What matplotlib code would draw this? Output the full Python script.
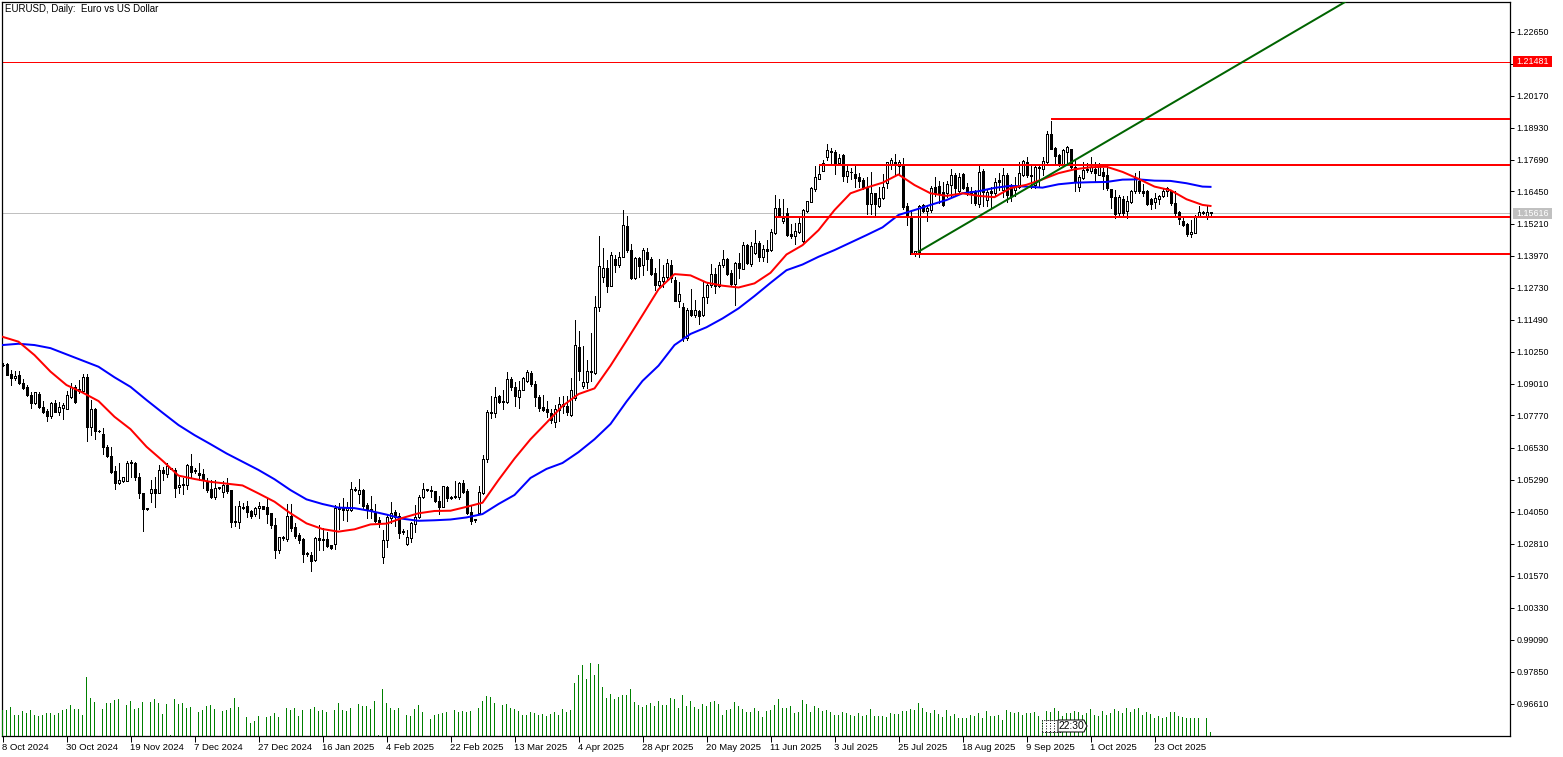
import matplotlib
matplotlib.use('Agg')
import matplotlib.pyplot as plt
from matplotlib.patches import Polygon, Rectangle
from matplotlib.transforms import IdentityTransform

plt.rcParams['font.family'] = ['Liberation Sans', 'DejaVu Sans']

# daily candles, one value per bar
opens = [
    1.0974,1.0975,1.0938,1.0922,1.0935,1.0903,1.0886,1.0856,1.0825,1.0860,
    1.0808,1.0794,1.0775,1.0825,1.0790,1.0807,1.0803,1.0850,1.0886,1.0873,
    1.0872,1.0925,1.0731,1.0802,1.0718,1.0704,1.0655,1.0620,1.0562,1.0517,
    1.0525,1.0525,1.0595,1.0593,1.0538,1.0477,1.0417,1.0475,1.0491,1.0478,
    1.0566,1.0550,1.0574,1.0566,1.0499,1.0506,1.0509,1.0582,1.0565,1.0553,
    1.0551,1.0521,1.0493,1.0463,1.0499,1.0482,1.0509,1.0487,1.0369,1.0366,
    1.0424,1.0427,1.0408,1.0396,1.0417,1.0426,1.0423,1.0398,1.0353,1.0256,
    1.0305,1.0299,1.0389,1.0344,1.0315,1.0299,1.0245,1.0237,1.0216,1.0303,
    1.0300,1.0299,1.0274,1.0278,1.0414,1.0418,1.0410,1.0410,1.0494,1.0474,
    1.0489,1.0431,1.0414,1.0401,1.0373,1.0227,1.0293,1.0379,1.0403,1.0388,
    1.0329,1.0280,1.0304,1.0357,1.0385,1.0460,1.0492,1.0487,1.0485,1.0446,
    1.0424,1.0500,1.0461,1.0465,1.0462,1.0514,1.0485,1.0402,1.0375,1.0401,
    1.0477,1.0607,1.0792,1.0786,1.0851,1.0834,1.0830,1.0918,1.0887,1.0850,
    1.0877,1.0909,1.0942,1.0900,1.0850,1.0810,1.0802,1.0786,1.0750,1.0799,
    1.0823,1.0814,1.0780,1.0844,1.1043,1.0890,1.0908,1.0951,1.0943,1.1197,
    1.1313,1.1348,1.1279,1.1384,1.1362,1.1393,1.1511,1.1417,1.1311,1.1386,
    1.1359,1.1411,1.1382,1.1328,1.1284,1.1299,1.1313,1.1360,1.1302,1.1219,
    1.1197,1.1077,1.1184,1.1168,1.1181,1.1167,1.1235,1.1283,1.1324,1.1277,
    1.1361,1.1384,1.1328,1.1288,1.1367,1.1346,1.1437,1.1364,1.1406,1.1444,
    1.1393,1.1421,1.1420,1.1483,1.1580,1.1532,1.1561,1.1481,1.1474,1.1490,
    1.1455,1.1571,1.1606,1.1653,1.1695,1.1726,1.1780,1.1802,1.1797,1.1754,
    1.1785,1.1706,1.1722,1.1713,1.1700,1.1689,1.1661,1.1597,1.1638,1.1589,
    1.1619,1.1677,1.1750,1.1760,1.1744,1.1750,1.1587,1.1551,1.1404,1.1409,
    1.1591,1.1568,1.1574,1.1662,1.1667,1.1644,1.1639,1.1671,1.1709,1.1645,
    1.1713,1.1662,1.1645,1.1645,1.1597,1.1725,1.1613,1.1645,1.1641,1.1688,
    1.1651,1.1709,1.1671,1.1651,1.1662,1.1709,1.1761,1.1709,1.1671,1.1738,
    1.1731,1.1760,1.1868,1.1813,1.1787,1.1748,1.1800,1.1809,1.1739,1.1664,
    1.1697,1.1731,1.1726,1.1731,1.1709,1.1721,1.1708,1.1654,1.1622,1.1561,
    1.1615,1.1568,1.1606,1.1645,1.1684,1.1645,1.1645,1.1617,1.1605,1.1615,
    1.1628,1.1645,1.1645,1.1600,1.1564,1.1531,1.1519,1.1479,1.1486,1.1551,1.1565,1.1551,1.1564,
]
highs = [
    1.0979,1.0979,1.0953,1.0950,1.0950,1.0917,1.0895,1.0870,1.0869,1.0870,
    1.0834,1.0801,1.0829,1.0836,1.0829,1.0824,1.0872,1.0902,1.0895,1.0914,
    1.0939,1.0939,1.0837,1.0805,1.0721,1.0727,1.0663,1.0654,1.0582,1.0592,
    1.0540,1.0602,1.0605,1.0598,1.0553,1.0477,1.0417,1.0528,1.0540,1.0586,
    1.0579,1.0592,1.0575,1.0573,1.0540,1.0534,1.0588,1.0627,1.0573,1.0592,
    1.0569,1.0534,1.0528,1.0528,1.0500,1.0525,1.0534,1.0489,1.0427,1.0446,
    1.0437,1.0444,1.0411,1.0424,1.0441,1.0426,1.0457,1.0401,1.0379,1.0308,
    1.0311,1.0433,1.0433,1.0359,1.0321,1.0301,1.0250,1.0250,1.0305,1.0353,
    1.0340,1.0327,1.0274,1.0431,1.0437,1.0456,1.0440,1.0518,1.0499,1.0531,
    1.0491,1.0437,1.0465,1.0434,1.0385,1.0334,1.0396,1.0442,1.0411,1.0398,
    1.0336,1.0334,1.0366,1.0431,1.0468,1.0514,1.0492,1.0505,1.0486,1.0465,
    1.0504,1.0504,1.0464,1.0525,1.0520,1.0527,1.0491,1.0431,1.0375,1.0504,
    1.0624,1.0798,1.0853,1.0887,1.0857,1.0874,1.0945,1.0928,1.0905,1.0912,
    1.0928,1.0954,1.0948,1.0909,1.0857,1.0857,1.0832,1.0802,1.0819,1.0848,
    1.0851,1.0851,1.0922,1.1148,1.1106,1.1048,1.0993,1.1096,1.1240,1.1473,
    1.1425,1.1380,1.1412,1.1399,1.1412,1.1573,1.1550,1.1442,1.1390,1.1390,
    1.1425,1.1425,1.1390,1.1348,1.1382,1.1360,1.1384,1.1380,1.1315,1.1296,
    1.1212,1.1193,1.1266,1.1225,1.1186,1.1296,1.1296,1.1363,1.1347,1.1373,
    1.1419,1.1386,1.1341,1.1373,1.1406,1.1451,1.1441,1.1451,1.1496,1.1455,
    1.1438,1.1457,1.1499,1.1630,1.1617,1.1615,1.1580,1.1519,1.1522,1.1545,
    1.1576,1.1610,1.1664,1.1744,1.1750,1.1767,1.1831,1.1812,1.1806,1.1790,
    1.1790,1.1744,1.1735,1.1748,1.1715,1.1696,1.1702,1.1722,1.1640,1.1664,
    1.1713,1.1760,1.1773,1.1790,1.1769,1.1773,1.1600,1.1568,1.1413,1.1593,
    1.1596,1.1593,1.1667,1.1703,1.1684,1.1680,1.1684,1.1731,1.1716,1.1716,
    1.1718,1.1677,1.1664,1.1651,1.1744,1.1731,1.1651,1.1664,1.1697,1.1718,
    1.1735,1.1716,1.1675,1.1703,1.1761,1.1767,1.1780,1.1748,1.1744,1.1748,
    1.1778,1.1881,1.1918,1.1817,1.1791,1.1809,1.1822,1.1811,1.1767,1.1709,
    1.1761,1.1757,1.1778,1.1761,1.1757,1.1735,1.1742,1.1654,1.1651,1.1632,
    1.1628,1.1626,1.1651,1.1716,1.1726,1.1675,1.1651,1.1619,1.1638,1.1632,
    1.1658,1.1664,1.1648,1.1645,1.1568,1.1542,1.1522,1.1535,1.1555,1.1589,1.1570,1.1589,1.1564,
]
lows = [
    1.0969,1.0935,1.0896,1.0914,1.0901,1.0878,1.0852,1.0806,1.0821,1.0806,
    1.0785,1.0757,1.0767,1.0790,1.0779,1.0765,1.0803,1.0845,1.0824,1.0863,
    1.0863,1.0680,1.0702,1.0685,1.0715,1.0628,1.0615,1.0553,1.0494,1.0512,
    1.0520,1.0525,1.0538,1.0528,1.0459,1.0331,1.0409,1.0442,1.0422,1.0476,
    1.0528,1.0540,1.0570,1.0460,1.0476,1.0471,1.0491,1.0540,1.0553,1.0528,
    1.0495,1.0482,1.0456,1.0452,1.0494,1.0463,1.0476,1.0344,1.0347,1.0340,
    1.0414,1.0383,1.0379,1.0386,1.0379,1.0415,1.0359,1.0343,1.0223,1.0246,
    1.0295,1.0292,1.0331,1.0301,1.0282,1.0211,1.0231,1.0176,1.0215,1.0254,
    1.0257,1.0269,1.0260,1.0260,1.0339,1.0373,1.0370,1.0407,1.0486,1.0437,
    1.0418,1.0379,1.0379,1.0365,1.0344,1.0207,1.0269,1.0360,1.0347,1.0304,
    1.0318,1.0274,1.0287,1.0324,1.0379,1.0456,1.0486,1.0463,1.0440,1.0396,
    1.0421,1.0447,1.0455,1.0456,1.0455,1.0476,1.0396,1.0357,1.0365,1.0398,
    1.0473,1.0598,1.0766,1.0773,1.0825,1.0804,1.0825,1.0874,1.0812,1.0806,
    1.0874,1.0905,1.0890,1.0812,1.0793,1.0793,1.0773,1.0748,1.0731,1.0754,
    1.0786,1.0780,1.0776,1.0838,1.0915,1.0883,1.0883,1.0909,1.0939,1.1180,
    1.1296,1.1257,1.1277,1.1335,1.1354,1.1390,1.1412,1.1305,1.1306,1.1315,
    1.1320,1.1341,1.1323,1.1264,1.1270,1.1274,1.1302,1.1296,1.1219,1.1199,
    1.1064,1.1070,1.1161,1.1158,1.1132,1.1161,1.1212,1.1274,1.1253,1.1274,
    1.1354,1.1321,1.1277,1.1207,1.1309,1.1344,1.1364,1.1357,1.1402,1.1377,
    1.1377,1.1373,1.1416,1.1481,1.1545,1.1522,1.1473,1.1464,1.1442,1.1486,
    1.1451,1.1567,1.1604,1.1648,1.1692,1.1723,1.1767,1.1749,1.1713,1.1748,
    1.1687,1.1683,1.1692,1.1661,1.1664,1.1653,1.1558,1.1558,1.1554,1.1584,
    1.1616,1.1657,1.1731,1.1709,1.1709,1.1577,1.1516,1.1404,1.1397,1.1393,
    1.1566,1.1529,1.1564,1.1626,1.1600,1.1587,1.1623,1.1628,1.1632,1.1641,
    1.1654,1.1632,1.1600,1.1593,1.1583,1.1589,1.1587,1.1578,1.1626,1.1651,
    1.1623,1.1606,1.1610,1.1626,1.1658,1.1706,1.1703,1.1658,1.1658,1.1667,
    1.1709,1.1757,1.1809,1.1748,1.1744,1.1742,1.1748,1.1735,1.1645,1.1648,
    1.1693,1.1722,1.1716,1.1684,1.1707,1.1654,1.1651,1.1580,1.1542,1.1551,
    1.1555,1.1542,1.1602,1.1641,1.1641,1.1626,1.1593,1.1577,1.1580,1.1597,
    1.1623,1.1628,1.1593,1.1552,1.1520,1.1510,1.1473,1.1467,1.1484,1.1546,1.1559,1.1540,1.1551,
]
closes = [
    1.0972,1.0935,1.0922,1.0932,1.0904,1.0883,1.0856,1.0825,1.0867,1.0810,
    1.0790,1.0775,1.0825,1.0790,1.0808,1.0816,1.0856,1.0886,1.0829,1.0878,
    1.0925,1.0731,1.0801,1.0716,1.0716,1.0654,1.0619,1.0558,1.0517,1.0526,
    1.0537,1.0592,1.0592,1.0537,1.0475,1.0413,1.0414,1.0491,1.0478,1.0565,
    1.0553,1.0580,1.0571,1.0498,1.0508,1.0513,1.0585,1.0558,1.0561,1.0546,
    1.0531,1.0488,1.0462,1.0497,1.0495,1.0509,1.0486,1.0364,1.0364,1.0425,
    1.0420,1.0405,1.0386,1.0419,1.0427,1.0415,1.0397,1.0354,1.0256,1.0305,
    1.0303,1.0388,1.0343,1.0312,1.0295,1.0242,1.0240,1.0215,1.0303,1.0293,
    1.0294,1.0273,1.0264,1.0418,1.0420,1.0411,1.0418,1.0491,1.0487,1.0487,
    1.0428,1.0414,1.0410,1.0369,1.0360,1.0294,1.0383,1.0401,1.0385,1.0323,
    1.0325,1.0305,1.0361,1.0385,1.0461,1.0491,1.0490,1.0485,1.0445,1.0423,
    1.0503,1.0458,1.0456,1.0460,1.0516,1.0482,1.0401,1.0370,1.0373,1.0480,
    1.0607,1.0789,1.0785,1.0848,1.0831,1.0830,1.0918,1.0886,1.0851,1.0875,
    1.0922,1.0946,1.0901,1.0848,1.0807,1.0799,1.0789,1.0761,1.0802,1.0821,
    1.0812,1.0789,1.0874,1.1050,1.0951,1.0906,1.0951,1.0944,1.1198,1.1355,
    1.1348,1.1280,1.1398,1.1362,1.1391,1.1514,1.1418,1.1311,1.1386,1.1357,
    1.1418,1.1382,1.1327,1.1284,1.1297,1.1313,1.1367,1.1309,1.1222,1.1247,
    1.1077,1.1185,1.1167,1.1185,1.1164,1.1235,1.1283,1.1324,1.1279,1.1361,
    1.1384,1.1324,1.1287,1.1367,1.1348,1.1437,1.1367,1.1432,1.1444,1.1393,
    1.1421,1.1416,1.1487,1.1580,1.1545,1.1544,1.1477,1.1473,1.1490,1.1522,
    1.1573,1.1607,1.1659,1.1700,1.1711,1.1754,1.1806,1.1797,1.1754,1.1773,
    1.1706,1.1723,1.1719,1.1697,1.1687,1.1661,1.1597,1.1638,1.1597,1.1619,
    1.1661,1.1758,1.1767,1.1751,1.1758,1.1584,1.1551,1.1404,1.1413,1.1587,
    1.1570,1.1581,1.1657,1.1641,1.1639,1.1593,1.1675,1.1707,1.1660,1.1700,
    1.1659,1.1639,1.1639,1.1600,1.1720,1.1642,1.1642,1.1639,1.1682,1.1680,
    1.1709,1.1632,1.1628,1.1664,1.1716,1.1764,1.1708,1.1706,1.1738,1.1735,
    1.1762,1.1868,1.1811,1.1784,1.1748,1.1804,1.1817,1.1739,1.1681,1.1703,
    1.1729,1.1729,1.1739,1.1718,1.1752,1.1706,1.1657,1.1622,1.1559,1.1622,
    1.1561,1.1610,1.1648,1.1697,1.1645,1.1639,1.1597,1.1597,1.1619,1.1628,
    1.1648,1.1658,1.1600,1.1561,1.1538,1.1516,1.1480,1.1488,1.1552,1.1564,1.1561,1.1565,1.1562,
]

# relative tick volume
volumes = [
    78,78,87,63,63,75,69,78,63,60,63,69,69,63,69,78,81,93,81,81,
    63,177,114,102,0,81,99,99,108,111,0,93,105,81,84,102,0,102,111,99,
    66,96,3,111,96,99,84,87,0,72,78,90,93,81,0,75,78,84,114,87,
    0,57,39,45,60,0,57,60,69,57,0,84,78,84,60,78,0,81,87,75,
    78,72,0,78,99,78,75,84,0,96,90,90,81,105,3,141,99,84,78,84,
    0,63,60,81,93,72,0,51,63,66,69,72,0,78,72,75,72,75,0,84,
    105,120,117,99,0,93,96,84,81,75,63,63,72,69,63,66,60,66,72,63,
    81,72,78,159,183,213,171,219,183,216,147,114,126,111,117,123,123,141,102,93,
    87,93,99,90,105,93,93,114,111,84,123,90,105,87,81,96,90,102,105,96,
    63,78,81,102,90,81,72,72,84,75,57,75,78,93,111,84,84,90,69,72,
    108,96,72,90,84,75,78,72,63,63,72,69,63,60,69,60,63,81,60,60,
    60,57,69,66,66,75,75,81,78,99,84,72,69,78,66,57,78,60,66,54,
    54,54,63,60,69,54,75,60,60,63,48,78,72,69,72,63,69,69,72,60,
    48,75,72,84,75,60,69,69,75,72,63,69,81,63,60,75,63,69,81,75,
    69,84,72,81,84,63,72,66,54,60,54,57,72,72,60,57,54,54,54,54,
    0,54,12,
]

# moving averages sampled every fourth bar, plus the last one
ma_bars = list(range(0, 301, 4)) + [302]
ma_fast = [
    1.1082,1.1063,1.1011,1.0947,1.0895,1.0866,1.0833,1.0772,1.0724,1.0656,
    1.0602,1.0544,1.0531,1.0520,1.0513,1.0506,1.0475,1.0443,1.0398,1.0359,
    1.0337,1.0327,1.0336,1.0355,1.0358,1.0380,1.0398,1.0407,1.0408,1.0423,
    1.0439,1.0527,1.0610,1.0685,1.0749,1.0814,1.0860,1.0882,1.0970,1.1067,
    1.1166,1.1266,1.1325,1.1320,1.1292,1.1280,1.1273,1.1289,1.1330,1.1401,
    1.1437,1.1495,1.1573,1.1638,1.1660,1.1679,1.1711,1.1670,1.1638,1.1628,
    1.1638,1.1628,1.1623,1.1658,1.1671,1.1692,1.1716,1.1731,1.1739,1.1741,
    1.1721,1.1694,1.1664,1.1650,1.1615,1.1593,1.1589,
]
ma_slow = [
    1.1050,1.1055,1.1050,1.1038,1.1014,1.0990,1.0966,1.0925,1.0888,1.0837,
    1.0788,1.0740,1.0701,1.0666,1.0630,1.0598,1.0566,1.0530,1.0488,1.0452,
    1.0434,1.0420,1.0418,1.0407,1.0393,1.0377,1.0369,1.0371,1.0374,1.0382,
    1.0395,1.0434,1.0469,1.0535,1.0570,1.0593,1.0635,1.0685,1.0744,1.0831,
    1.0911,1.0970,1.1050,1.1093,1.1119,1.1153,1.1192,1.1240,1.1291,1.1340,
    1.1362,1.1392,1.1418,1.1447,1.1476,1.1506,1.1554,1.1573,1.1593,1.1612,
    1.1638,1.1646,1.1659,1.1667,1.1664,1.1660,1.1673,1.1679,1.1681,1.1682,
    1.1691,1.1692,1.1687,1.1686,1.1677,1.1664,1.1663,
]

date_labels = ['8 Oct 2024', '30 Oct 2024', '19 Nov 2024', '7 Dec 2024', '27 Dec 2024',
               '16 Jan 2025', '4 Feb 2025', '22 Feb 2025', '13 Mar 2025', '4 Apr 2025',
               '28 Apr 2025', '20 May 2025', '11 Jun 2025', '3 Jul 2025', '25 Jul 2025',
               '18 Aug 2025', '9 Sep 2025', '1 Oct 2025', '23 Oct 2025']
price_labels = ['1.22650', '', '1.20170', '1.18930', '1.17690', '1.16450', '1.15210',
                '1.13970', '1.12730', '1.11490', '1.10250', '1.09010', '1.07770', '1.06530',
                '1.05290', '1.04050', '1.02810', '1.01570', '1.00330', '0.99090', '0.97850',
                '0.96610']
price_ticks = [float(s) if s else 1.21410 for s in price_labels]

# chart objects: (first bar, price)
levels = [(262.1, 1.1926), (204.2, 1.1748), (193.0, 1.1548), (227.0, 1.1404)]
trend_bars = [229.0, 335.6]
trend_prices = [1.1412, 1.2379]
alert_price = 1.21481
bid_price = 1.15616

W, H = 1563, 757
X0, X1, Y0, Y1 = 2, 1510, 2, 736


def price_at(y):
    return 1.22650 - (y - 31.5) * 0.0124 / 32


fig = plt.figure(figsize=(W / 100, H / 100), dpi=100, facecolor='white')
ax = fig.add_axes([X0 / W, 1 - Y1 / H, (X1 - X0) / W, (Y1 - Y0) / H])
ax.set_xlim((X0 - 2.5) / 4, (X1 - 2.5) / 4)
ax.set_ylim(price_at(Y1), price_at(Y0))

# volume uses its own scale, sits on the bottom edge
ax_vol = ax.twinx()
ax_vol.set_ylim(0, (Y1 - Y0) * 3)
ax_vol.axis('off')
ax_vol.bar(range(len(volumes)), volumes, width=0.25, color='#008000', lw=0, antialiased=False)

bars = range(len(opens))
ax.vlines(bars, lows, highs, color='black', lw=0.72, antialiased=False, zorder=2)
for i in bars:
    top = max(opens[i], closes[i])
    bottom = min(opens[i], closes[i])
    face = 'black' if closes[i] < opens[i] else 'white'
    ax.add_patch(Rectangle((i - 0.25, bottom), 0.5, top - bottom, facecolor=face, edgecolor='black',
                           lw=0.72, antialiased=False, zorder=3))

ax.axhline(bid_price, color='#C0C0C0', lw=0.72, antialiased=False, zorder=1)
ax.axhline(alert_price, color='#FF0000', lw=0.72, antialiased=False, zorder=1)

ax.plot(ma_bars, ma_slow, color='#0000FF', lw=1.44, zorder=4)
ax.plot(ma_bars, ma_fast, color='#FF0000', lw=1.44, zorder=5)

for start, price in levels:
    ax.plot([start, (X1 - 2.5) / 4], [price, price], color='#FF0000', lw=1.44, solid_capstyle='butt',
            antialiased=False, zorder=6)
ax.plot(trend_bars, trend_prices, color='#006400', lw=1.44, zorder=6)

ax.yaxis.tick_right()
ax.set_yticks(price_ticks)
ax.set_yticklabels(price_labels)
ax.set_xticks(range(0, 16 * len(date_labels), 16))
ax.set_xticklabels(date_labels, ha='left')
ax.tick_params(axis='y', length=3, width=0.72, pad=1.5, labelsize=6.4, colors='black')
ax.tick_params(axis='x', length=4, width=0.72, pad=1, labelsize=6.8, colors='black')
for side in ax.spines.values():
    side.set_linewidth(0.9)

fig.text(5 / W, 1 - 9 / H, 'EURUSD, Daily:  Euro vs US Dollar', fontsize=7.0, va='center', ha='left')

# price tags on the right edge
px = IdentityTransform()
for price, colour in [(alert_price, '#FF0000'), (bid_price, '#C0C0C0')]:
    y = H - (1.22650 - price) / 0.0124 * 32 - 31.5
    fig.add_artist(Rectangle((1513, y - 5.5), 39, 11, facecolor=colour, edgecolor='none', transform=px))
    fig.text(1532.5 / W, y / H, '%.5f' % price, color='white', fontsize=6.4, ha='center', va='center')

# period separators label near the bottom
for left in [1042, 1046, 1050, 1054]:
    fig.add_artist(Rectangle((left, H - 732), 6, 12, facecolor='white', edgecolor='black', lw=0.72,
                             linestyle=':', transform=px))
fig.add_artist(Polygon([(1058, H - 720), (1084, H - 720), (1087, H - 726), (1084, H - 732), (1058, H - 732)],
                       closed=True, facecolor='white', edgecolor='black', lw=0.72, transform=px))
fig.text(1071.5 / W, 1 - 726 / H, '22:30', fontsize=7.4, ha='center', va='center')

fig.savefig('out.png', dpi=100, facecolor='white')
